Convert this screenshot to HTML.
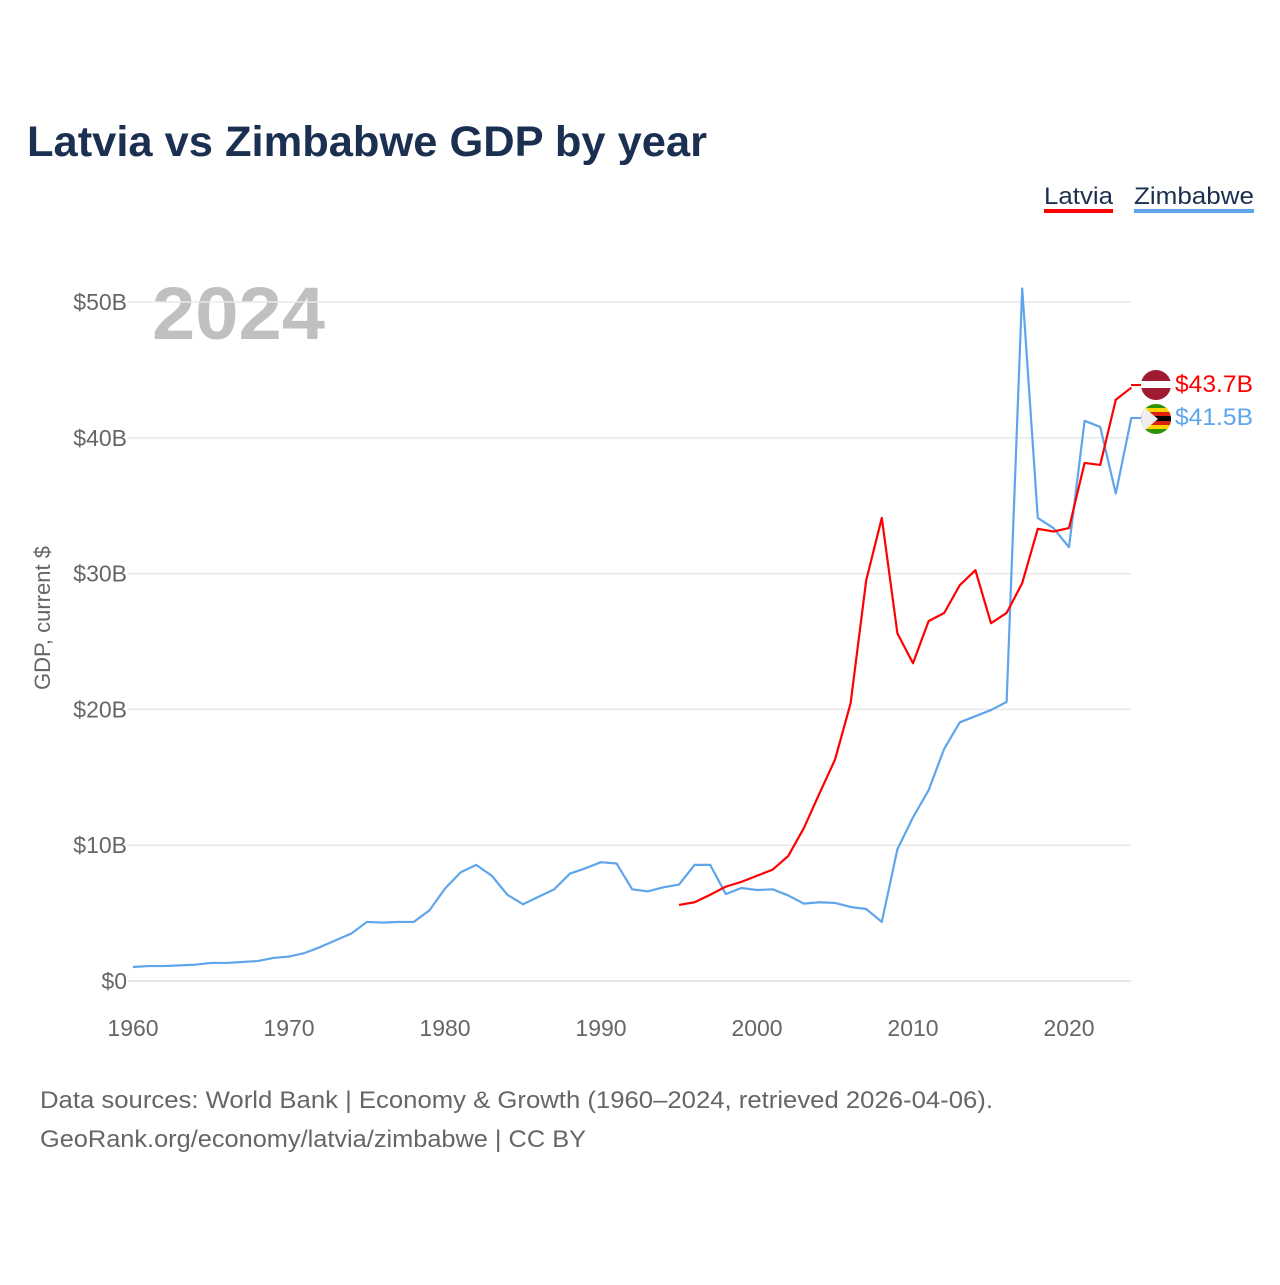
<!DOCTYPE html>
<html><head><meta charset="utf-8"><style>
body{margin:0;background:#fff;width:1280px;height:1280px;overflow:hidden;font-family:"Liberation Sans",sans-serif}
</style></head><body>
<svg id="chart" width="1280" height="1280" xmlns="http://www.w3.org/2000/svg" font-family="Liberation Sans, sans-serif">
<text x="27" y="156" font-size="43" font-weight="bold" fill="#1b3051" textLength="680" lengthAdjust="spacingAndGlyphs">Latvia vs Zimbabwe GDP by year</text>
<g><text x="1044" y="204" font-size="24" fill="#1b3051" textLength="69" lengthAdjust="spacingAndGlyphs">Latvia</text><rect x="1044" y="209" width="69" height="4" fill="#ff0000"/></g>
<g><text x="1134" y="204" font-size="24" fill="#1b3051" textLength="120" lengthAdjust="spacingAndGlyphs">Zimbabwe</text><rect x="1134" y="209" width="120" height="4" fill="#5ea5ec"/></g>
<text x="152" y="339" font-size="74" font-weight="bold" fill="#c0c0c0" textLength="173" lengthAdjust="spacingAndGlyphs">2024</text>
<text transform="translate(50,618) rotate(-90)" text-anchor="middle" font-size="22" fill="#666">GDP, current $</text>
<g id="grid"></g><g id="xt"></g><g id="lines"></g>
<g>
<line x1="1131" y1="385" x2="1142" y2="385" stroke="#ff0000" stroke-width="2"/>
<circle cx="1156" cy="385" r="15" fill="#9e1b32"/><rect x="1141" y="381" width="30" height="7" fill="#fff"/>
<text x="1175" y="392" font-size="24" fill="#ff0000" textLength="78" lengthAdjust="spacingAndGlyphs">$43.7B</text></g>
<g>
<line x1="1131" y1="418" x2="1142" y2="418" stroke="#5ea5ec" stroke-width="2"/>
<clipPath id="zc"><circle cx="1156" cy="419" r="15"/></clipPath>
<g clip-path="url(#zc)"><rect x="1140" y="404" width="32" height="32" fill="#319208"/><rect x="1140" y="408" width="32" height="4" fill="#ffd200"/><rect x="1140" y="412" width="32" height="4" fill="#de2010"/><rect x="1140" y="416" width="32" height="5" fill="#000"/><rect x="1140" y="421" width="32" height="4" fill="#de2010"/><rect x="1140" y="425" width="32" height="4" fill="#ffd200"/><polygon points="1140,404 1158,419 1140,434" fill="#eee"/></g>
<text x="1175" y="425" font-size="24" fill="#5ea5ec" textLength="78" lengthAdjust="spacingAndGlyphs">$41.5B</text></g>
<text x="40" y="1108" font-size="24" fill="#666" textLength="953" lengthAdjust="spacingAndGlyphs">Data sources: World Bank | Economy &amp; Growth (1960–2024, retrieved 2026-04-06).</text>
<text x="40" y="1147" font-size="24" fill="#666" textLength="546" lengthAdjust="spacingAndGlyphs">GeoRank.org/economy/latvia/zimbabwe | CC BY</text>
</svg>
<script>
const yTicks=[0,10,20,30,40,50];
const xTicks=[1960,1970,1980,1990,2000,2010,2020];
const zimYears=[1960,1961,1962,1963,1964,1965,1966,1967,1968,1969,1970,1971,1972,1973,1974,1975,1976,1977,1978,1979,1980,1981,1982,1983,1984,1985,1986,1987,1988,1989,1990,1991,1992,1993,1994,1995,1996,1997,1998,1999,2000,2001,2002,2003,2004,2005,2006,2007,2008,2009,2010,2011,2012,2013,2014,2015,2016,2017,2018,2019,2020,2021,2022,2023,2024];
const zimValues=[1.03,1.1,1.1,1.15,1.2,1.33,1.33,1.4,1.47,1.7,1.8,2.06,2.5,3.0,3.5,4.35,4.3,4.35,4.35,5.2,6.8,8.0,8.55,7.75,6.35,5.65,6.2,6.75,7.9,8.3,8.75,8.65,6.75,6.6,6.9,7.1,8.55,8.55,6.4,6.85,6.7,6.75,6.3,5.7,5.8,5.75,5.45,5.3,4.35,9.7,12.05,14.05,17.1,19.05,19.5,19.95,20.55,51.0,34.1,33.35,31.95,41.25,40.8,35.9,41.5];
const latYears=[1995,1996,1997,1998,1999,2000,2001,2002,2003,2004,2005,2006,2007,2008,2009,2010,2011,2012,2013,2014,2015,2016,2017,2018,2019,2020,2021,2022,2023,2024];
const latValues=[5.6,5.8,6.35,6.95,7.3,7.75,8.2,9.2,11.25,13.8,16.3,20.45,29.5,34.1,25.6,23.4,26.5,27.1,29.15,30.25,26.35,27.1,29.3,33.3,33.1,33.35,38.15,38.0,42.8,43.7];
const NS="http://www.w3.org/2000/svg";
const X=y=>133+(y-1960)*15.6;
const Y=v=>981-v*13.58;
const grid=document.getElementById('grid'),xt=document.getElementById('xt'),lines=document.getElementById('lines');
yTicks.forEach(t=>{
 const l=document.createElementNS(NS,'line');
 
 
 l.setAttribute('x1',128);l.setAttribute('x2',1131);l.setAttribute('y1',Y(t));l.setAttribute('y2',Y(t));
 l.setAttribute('stroke',t===0?'#ddd':'#e8e8e8');l.setAttribute('stroke-width',1.5);grid.appendChild(l);
 const tx=document.createElementNS(NS,'text');
 
 
 tx.setAttribute('x',127);tx.setAttribute('y',Y(t)+8);tx.setAttribute('text-anchor','end');
 tx.setAttribute('font-size',23);tx.setAttribute('fill','#666');tx.textContent=t===0?'$0':'$'+t+'B';grid.appendChild(tx);
});
xTicks.forEach(t=>{
 const tx=document.createElementNS(NS,'text');
 
 
 tx.setAttribute('x',X(t));tx.setAttribute('y',1036);tx.setAttribute('text-anchor','middle');
 tx.setAttribute('font-size',23);tx.setAttribute('fill','#666');tx.textContent=t;xt.appendChild(tx);
});
function line(years,vals,color,name){
 const p=document.createElementNS(NS,'polyline');
 
 
 p.setAttribute('points',years.map((y,i)=>X(y)+','+Y(vals[i])).join(' '));
 p.setAttribute('fill','none');p.setAttribute('stroke',color);p.setAttribute('stroke-width',2.2);p.setAttribute('stroke-linejoin','round');
 lines.appendChild(p);
}
line(zimYears,zimValues,'#5ea5ec','zimbabwe-line');
line(latYears,latValues,'#ff0000','latvia-line');
</script>
</body></html>
